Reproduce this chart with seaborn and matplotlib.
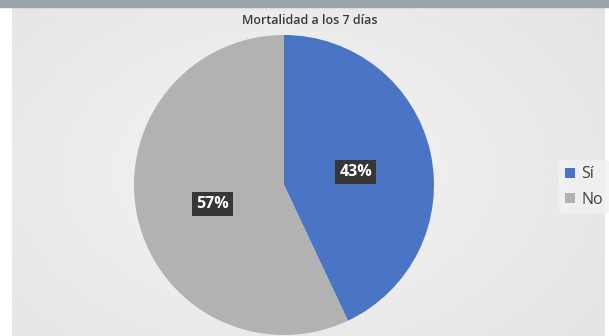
import numpy as np
import matplotlib
matplotlib.use("Agg")
import matplotlib.pyplot as plt
import seaborn as sns
from matplotlib.patches import Rectangle

sns.set_theme(style="white")
plt.rcParams['font.family'] = ['Open Sans', 'DejaVu Sans']

categories = ["Sí", "No"]
values = [43, 57]
title = "Mortalidad a los 7 días"
colors = ["#4a75c4", "#b2b2b2"]

W, H = 609, 336
fig = plt.figure(figsize=(W / 100, H / 100), dpi=100)
fig.patch.set_facecolor("#ffffff")

# background gradient panel
bg = fig.add_axes([12 / W, 0, (W - 16) / W, (H - 8) / H])
yy, xx = np.mgrid[0:1:200j, 0:1:300j]
r = np.sqrt(((xx - 0.45) * 1.2) ** 2 + (yy - 0.5) ** 2)
img = 0.955 - 0.075 * np.clip(r, 0, 1)
bg.imshow(img, cmap="gray", vmin=0, vmax=1, aspect="auto", extent=[0, 1, 0, 1])
bg.set_axis_off()

# top bar
fig.patches.append(Rectangle((0, (H - 7) / H), 1, 7 / H, transform=fig.transFigure,
                             color="#9aa2aa", zorder=0))

cx, cy, rad = 284, 185, 150
ax = fig.add_axes([(cx - rad) / W, (H - cy - rad) / H, 2 * rad / W, 2 * rad / H])
wedges, texts, autotexts = ax.pie(
    values, colors=colors, startangle=90, counterclock=False,
    autopct=lambda p: f"{p:.0f}%", pctdistance=0.49,
    wedgeprops=dict(linewidth=0, edgecolor="none"),
    textprops=dict(color="white", fontsize=11.5, fontweight="bold"),
)
for t in autotexts:
    t.set_bbox(dict(boxstyle="square,pad=0.25", facecolor="#363636", edgecolor="none"))
autotexts[0].set_y(autotexts[0].get_position()[1] - 0.02)
autotexts[1].set_y(autotexts[1].get_position()[1] - 0.02)
ax.set_xlim(-1, 1)
ax.set_ylim(-1, 1)
ax.set_aspect("equal")

fig.text(310 / W, 1 - 20 / H, title, ha="center", va="center", fontsize=9,
         color="#3a3a3a", fontweight="semibold")

leg = fig.legend(wedges, categories, loc="center left",
                 bbox_to_anchor=(551 / W, 1 - 187 / H), frameon=True,
                 fontsize=11.5, handlelength=0.6, handleheight=0.6,
                 handletextpad=0.4, labelspacing=0.6, borderpad=0.4)
leg.get_frame().set_facecolor("#f2f2f2")
leg.get_frame().set_edgecolor("none")
leg.get_frame().set_alpha(0.8)
for t in leg.get_texts():
    t.set_color("#404040")

fig.savefig("out.png", dpi=100)
